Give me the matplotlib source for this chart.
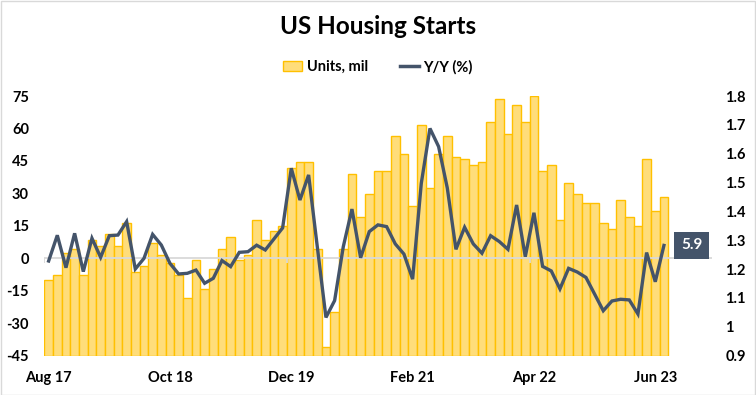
import numpy as np
import matplotlib
matplotlib.use("Agg")
import matplotlib.pyplot as plt
from matplotlib.patches import Rectangle
from matplotlib.lines import Line2D
from matplotlib.patches import Patch

plt.rcParams['font.family'] = ['Lato', 'DejaVu Sans']
plt.rcParams['axes.unicode_minus'] = False

# Monthly data: Aug 2017 .. Jul 2023
units = [1.161, 1.178, 1.257, 1.268, 1.178, 1.299, 1.279, 1.320, 1.279, 1.358,
         1.188, 1.209, 1.289, 1.247, 1.220, 1.178, 1.098, 1.230, 1.129, 1.199,
         1.268, 1.310, 1.230, 1.247, 1.369, 1.299, 1.331, 1.348, 1.549, 1.570,
         1.570, 1.268, 0.928, 1.050, 1.268, 1.528, 1.379, 1.459, 1.539, 1.539,
         1.660, 1.598, 1.417, 1.698, 1.480, 1.598, 1.660, 1.587, 1.580, 1.559,
         1.570, 1.709, 1.789, 1.667, 1.768, 1.709, 1.799, 1.539, 1.559, 1.369,
         1.497, 1.459, 1.428, 1.428, 1.358, 1.338, 1.438, 1.379, 1.348, 1.580,
         1.400, 1.449]
yoy = [-1.3, 10.6, -4.4, 11.5, -6.2, 9.2, 0.4, 10.4, 10.7, 16.9,
       -5.0, -0.1, 11.0, 6.1, -2.4, -7.3, -7.0, -5.5, -11.6, -9.3,
       -1.1, -3.9, 2.7, 3.0, 6.0, 3.8, 8.9, 14.0, 41.6, 26.9,
       38.5, 5.3, -27.4, -19.6, 5.3, 22.7, 0.2, 12.3, 15.4, 14.6,
       6.6, 1.9, -9.7, 34.6, 60.0, 51.6, 32.5, 4.1, 14.3, 6.6,
       2.3, 10.4, 7.7, 4.1, 24.6, 0.7, 21.0, -3.8, -5.9, -14.2,
       -4.7, -6.4, -8.9, -16.6, -24.3, -19.8, -19.0, -19.3, -25.8, 2.6,
       -10.9, 5.9]
tick_labels = ["Aug 17", "Oct 18", "Dec 19", "Feb 21", "Apr 22", "Jun 23"]
tick_step = 14
n_slots = 77  # category slots on axis (includes empty space at right)

title = "US Housing Starts"
bar_name = "Units, mil"
line_name = "Y/Y (%)"

bar_fill = '#FFDD7A'
bar_edge = '#FFC000'
line_col = '#44546A'
grid_col = '#D9D9D9'

W, H = 756, 395
fig = plt.figure(figsize=(W / 100, H / 100), dpi=100)
fig.patch.set_facecolor('white')
fig.add_artist(Rectangle((0.5 / W, 0.5 / H), 1 - 1.5 / W, 1 - 1.5 / H, transform=fig.transFigure,
                         fill=False, edgecolor=grid_col, lw=1.0))

left, right, top, bottom = 44.3, 711.6, 96.0, 355.5
ax_bar = fig.add_axes([left / W, 1 - bottom / H, (right - left) / W, (bottom - top) / H])
ax_line = ax_bar.twinx()

x = np.arange(len(units))
ax_bar.bar(x, np.array(units) - 0.9, bottom=0.9, width=1.0, color=bar_fill,
           edgecolor=bar_edge, linewidth=1.0, zorder=2)
ax_bar.set_ylim(0.9, 1.8)
ax_bar.set_xlim(-0.5, n_slots - 0.5)
rticks = np.round(np.arange(0.9, 1.81, 0.1), 1)
ax_bar.set_yticks(rticks)
ax_bar.set_yticklabels([f"{v:g}" for v in rticks])
ax_bar.yaxis.tick_right()
ax_bar.tick_params(axis='y', length=0, pad=10, labelsize=10.5)
for lab in ax_bar.get_yticklabels():
    lab.set_fontweight('bold')

ax_bar.set_xticks(x[::tick_step])
ax_bar.set_xticklabels(tick_labels, fontweight='bold', fontsize=10.5)
ax_bar.tick_params(axis='x', length=0, pad=11)

ax_line.yaxis.tick_left()
ax_line.set_ylim(-45, 75)
lticks = np.arange(-45, 76, 15)
ax_line.set_yticks(lticks)
ax_line.set_yticklabels([str(v) for v in lticks])
ax_line.tick_params(axis='y', length=0, pad=11, labelsize=10.5)
for lab in ax_line.get_yticklabels():
    lab.set_fontweight('bold')

ax_line.axhline(0, color=grid_col, lw=1.3, zorder=1)
tick_pos = np.arange(0, len(units) + 1, 2 * tick_step) - 0.5
ax_line.vlines(tick_pos, -2.4, 0, color=grid_col, lw=1.3, zorder=1)
ax_line.plot(x, yoy, color=line_col, lw=2.4, zorder=3, solid_joinstyle='miter')

ax_line.annotate(f"{yoy[-1]:.1f}", xy=(x[-1], yoy[-1]), xytext=(20, 0),
                 textcoords='offset points', ha='center', va='center',
                 color='white', fontweight='bold', fontsize=11,
                 bbox=dict(boxstyle='square,pad=0.45', fc=line_col, ec='none'))

for a in (ax_bar, ax_line):
    for s in a.spines.values():
        s.set_visible(False)

fig.text(0.5, 1 - 26 / H, title, ha='center', va='center', fontsize=17.5, fontweight='bold')

handles = [Patch(facecolor=bar_fill, edgecolor=bar_edge, lw=1.0),
           Line2D([0], [0], color=line_col, lw=2.5)]
fig.legend(handles, [bar_name, line_name], loc='center', bbox_to_anchor=(0.5, 1 - 67 / H),
           ncol=2, frameon=False, prop={'weight': 'bold', 'size': 10.5},
           handlelength=1.3, handleheight=0.7, handletextpad=0.3, columnspacing=2.2)

fig.savefig('out.png', dpi=100)
